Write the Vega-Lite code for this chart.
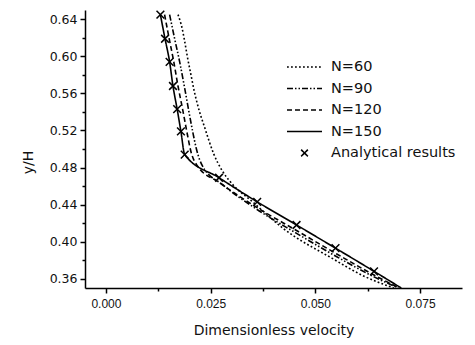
{
  "$schema": "https://vega.github.io/schema/vega-lite/v6.json",
  "width": 377,
  "height": 278,
  "autosize": "none",
  "padding": {"left": 85, "top": 10, "right": 13, "bottom": 57},
  "config": {
    "font": "DejaVu Sans",
    "view": {"stroke": null},
    "axis": {"grid": false, "domainColor": "black", "domainWidth": 1.5, "tickColor": "black", "tickWidth": 1.5, "labelColor": "#111", "titleColor": "#111", "titleFontWeight": "normal"}
  },
  "data": {"values": [
    {"series": "N=60", "x": 0.0172, "y": 0.645},
    {"series": "N=60", "x": 0.0182, "y": 0.630},
    {"series": "N=60", "x": 0.0188, "y": 0.616},
    {"series": "N=60", "x": 0.0195, "y": 0.598},
    {"series": "N=60", "x": 0.0203, "y": 0.580},
    {"series": "N=60", "x": 0.0210, "y": 0.564},
    {"series": "N=60", "x": 0.0218, "y": 0.549},
    {"series": "N=60", "x": 0.0238, "y": 0.520},
    {"series": "N=60", "x": 0.0257, "y": 0.495},
    {"series": "N=60", "x": 0.0277, "y": 0.477},
    {"series": "N=60", "x": 0.0300, "y": 0.463},
    {"series": "N=60", "x": 0.0350, "y": 0.443},
    {"series": "N=60", "x": 0.0424, "y": 0.414},
    {"series": "N=60", "x": 0.0540, "y": 0.382},
    {"series": "N=60", "x": 0.0615, "y": 0.363},
    {"series": "N=60", "x": 0.0687, "y": 0.350},
    {"series": "N=90", "x": 0.0152, "y": 0.645},
    {"series": "N=90", "x": 0.0164, "y": 0.619},
    {"series": "N=90", "x": 0.0176, "y": 0.594},
    {"series": "N=90", "x": 0.0187, "y": 0.568},
    {"series": "N=90", "x": 0.0197, "y": 0.543},
    {"series": "N=90", "x": 0.0207, "y": 0.519},
    {"series": "N=90", "x": 0.0216, "y": 0.500},
    {"series": "N=90", "x": 0.0230, "y": 0.482},
    {"series": "N=90", "x": 0.0280, "y": 0.461},
    {"series": "N=90", "x": 0.0360, "y": 0.435},
    {"series": "N=90", "x": 0.0455, "y": 0.409},
    {"series": "N=90", "x": 0.0550, "y": 0.384},
    {"series": "N=90", "x": 0.0640, "y": 0.362},
    {"series": "N=90", "x": 0.0698, "y": 0.350},
    {"series": "N=120", "x": 0.0140, "y": 0.645},
    {"series": "N=120", "x": 0.0151, "y": 0.619},
    {"series": "N=120", "x": 0.0162, "y": 0.594},
    {"series": "N=120", "x": 0.0172, "y": 0.568},
    {"series": "N=120", "x": 0.0183, "y": 0.543},
    {"series": "N=120", "x": 0.0193, "y": 0.519},
    {"series": "N=120", "x": 0.0203, "y": 0.497},
    {"series": "N=120", "x": 0.0218, "y": 0.482},
    {"series": "N=120", "x": 0.0270, "y": 0.464},
    {"series": "N=120", "x": 0.0360, "y": 0.437},
    {"series": "N=120", "x": 0.0455, "y": 0.412},
    {"series": "N=120", "x": 0.0550, "y": 0.387},
    {"series": "N=120", "x": 0.0640, "y": 0.364},
    {"series": "N=120", "x": 0.0700, "y": 0.350},
    {"series": "N=150", "x": 0.0130, "y": 0.645},
    {"series": "N=150", "x": 0.0141, "y": 0.619},
    {"series": "N=150", "x": 0.0152, "y": 0.594},
    {"series": "N=150", "x": 0.0160, "y": 0.568},
    {"series": "N=150", "x": 0.0170, "y": 0.543},
    {"series": "N=150", "x": 0.0179, "y": 0.519},
    {"series": "N=150", "x": 0.0188, "y": 0.494},
    {"series": "N=150", "x": 0.0270, "y": 0.469},
    {"series": "N=150", "x": 0.0361, "y": 0.443},
    {"series": "N=150", "x": 0.0455, "y": 0.418},
    {"series": "N=150", "x": 0.0548, "y": 0.393},
    {"series": "N=150", "x": 0.0640, "y": 0.368},
    {"series": "N=150", "x": 0.0705, "y": 0.350},
    {"series": "Analytical results", "x": 0.0130, "y": 0.645},
    {"series": "Analytical results", "x": 0.0141, "y": 0.619},
    {"series": "Analytical results", "x": 0.0152, "y": 0.594},
    {"series": "Analytical results", "x": 0.0160, "y": 0.568},
    {"series": "Analytical results", "x": 0.0170, "y": 0.543},
    {"series": "Analytical results", "x": 0.0179, "y": 0.519},
    {"series": "Analytical results", "x": 0.0188, "y": 0.494},
    {"series": "Analytical results", "x": 0.0270, "y": 0.469},
    {"series": "Analytical results", "x": 0.0361, "y": 0.443},
    {"series": "Analytical results", "x": 0.0455, "y": 0.418},
    {"series": "Analytical results", "x": 0.0548, "y": 0.393},
    {"series": "Analytical results", "x": 0.0640, "y": 0.368}
  ]},
  "encoding": {
    "x": {"field": "x", "type": "quantitative",
      "scale": {"domain": [-0.005, 0.085], "nice": false, "zero": false},
      "axis": {"title": "Dimensionless velocity", "values": [0, 0.0125, 0.025, 0.0375, 0.05, 0.0625, 0.075],
        "labelExpr": "round(datum.value*1000) % 25 == 0 ? format(datum.value, '.3f') : ''",
        "tickSize": {"condition": {"test": "round(datum.value*1000) % 25 == 0", "value": 5}, "value": 3},
        "labelFont": "Liberation Sans", "labelFontSize": 12, "titleFontSize": 14,
        "labelPadding": 5, "titlePadding": 14, "labelFlush": false}},
    "y": {"field": "y", "type": "quantitative",
      "scale": {"domain": [0.35, 0.65], "nice": false, "zero": false},
      "axis": {"title": "y/H", "values": [0.36, 0.38, 0.40, 0.42, 0.44, 0.46, 0.48, 0.50, 0.52, 0.54, 0.56, 0.58, 0.60, 0.62, 0.64],
        "labelExpr": "round(datum.value*100) % 4 == 0 ? format(datum.value, '.2f') : ''",
        "tickSize": {"condition": {"test": "round(datum.value*100) % 4 == 0", "value": 5}, "value": 3},
        "labelFontSize": 12.5, "titleFontSize": 14, "titleY": 152,
        "labelPadding": 3, "titlePadding": 14, "labelFlush": false}}
  },
  "layer": [
    {
      "transform": [{"filter": "datum.series != 'Analytical results'"}],
      "mark": {"type": "line", "color": "black", "strokeWidth": 1.6, "interpolate": "monotone"},
      "encoding": {
        "detail": {"field": "series"},
        "strokeDash": {"field": "series", "type": "nominal",
          "scale": {"domain": ["N=60", "N=90", "N=120", "N=150", "Analytical results"],
                    "range": [[1.8, 2.2], [6, 2, 1.5, 2, 1.5, 2], [5, 3], [1, 0], [1, 0]]},
          "legend": {"title": null, "orient": "none", "legendX": 201, "legendY": 51, "padding": 0,
            "symbolType": "stroke", "symbolSize": 1225, "symbolStrokeWidth": 1.6, "symbolStrokeColor": "black",
            "labelFontSize": 14.5, "labelColor": "#111", "labelFont": "DejaVu Sans", "labelOffset": 8,
            "clipHeight": 12, "rowPadding": 6.5,
            "encode": {"symbols": {"update": {
              "shape": {"signal": "datum.value === 'Analytical results' ? 'M-1,-1L1,1M1,-1L-1,1' : 'stroke'"},
              "size": {"signal": "datum.value === 'Analytical results' ? 45 : 1225"}
            }}}}
        }
      }
    },
    {
      "transform": [{"filter": "datum.series == 'Analytical results'"}],
      "mark": {"type": "point", "shape": "M-1,-1L1,1M1,-1L-1,1", "size": 60, "filled": false, "stroke": "black", "strokeWidth": 1.5, "opacity": 1}
    }
  ]
}
